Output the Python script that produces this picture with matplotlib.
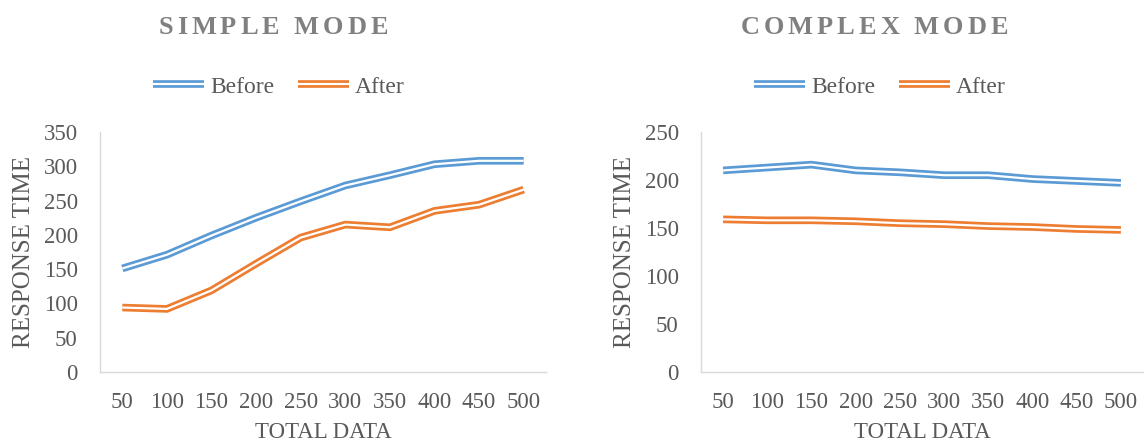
"""Response time before/after comparison for simple and complex modes."""

import matplotlib

matplotlib.use("Agg")
import matplotlib.pyplot as plt
from matplotlib.lines import Line2D

plt.rcParams["font.family"] = ["Liberation Serif", "DejaVu Serif"]

total_data = ["50", "100", "150", "200", "250", "300", "350", "400", "450", "500"]

simple_before = [151, 171, 199, 225, 249, 272, 287, 303, 308, 308]
simple_after = [94, 92, 119, 158, 196, 215, 211, 235, 244, 266]

complex_before = [210, 213, 216, 210, 208, 205, 205, 201, 199, 197]
complex_after = [159, 158, 158, 157, 155, 154, 152, 151, 149, 148]

BLUE = "#5B9BD5"
ORANGE = "#ED7D31"
TEXT = "#595959"
TITLE = "#808080"
SPINE = "#D9D9D9"

W, H = 1144, 443
OUTER_LW, INNER_LW = 5.5, 1.6


def double_line(ax, y, color):
    """Excel-style compound (double) line: thick stroke with a white core."""
    x = range(len(y))
    style = dict(solid_joinstyle="miter", solid_capstyle="butt")
    ax.plot(x, y, color=color, lw=OUTER_LW, zorder=3, **style)
    ax.plot(x, y, color="white", lw=INNER_LW, zorder=4, **style)


def spaced_title(fig, text, xc, yc, tracking, **kw):
    """Draw letter-spaced text centred on (xc, yc) in pixels from top-left."""
    renderer = fig.canvas.get_renderer()
    probe = fig.text(0, 0, text, **kw)
    prop = probe.get_fontproperties()
    probe.remove()

    def width(s):
        return renderer.get_text_width_height_descent(s, prop, ismath=False)[0]

    total = width(text) + tracking * (len(text) - 1)
    x0 = xc - total / 2
    for i, ch in enumerate(text):
        if ch == " ":
            continue
        left = width(text[: i + 1]) - width(ch) + i * tracking
        fig.text((x0 + left) / W, 1 - yc / H, ch, ha="left", va="center", **kw)


def style_axes(ax, ymax):
    ax.set_xlim(-0.5, len(total_data) - 0.5)
    ax.set_ylim(0, ymax)
    ax.set_yticks(range(0, ymax + 1, 50))
    ax.set_xticks(range(len(total_data)))
    ax.set_xticklabels(total_data)
    for side in ("top", "right"):
        ax.spines[side].set_visible(False)
    for side in ("left", "bottom"):
        ax.spines[side].set_color(SPINE)
        ax.spines[side].set_linewidth(1.0)
    ax.tick_params(axis="both", length=0, labelsize=16.5, colors=TEXT)
    ax.tick_params(axis="x", pad=14.5)
    ax.tick_params(axis="y", pad=16)
    ax.set_xlabel("TOTAL DATA", fontsize=16.5, color=TEXT)
    ax.set_ylabel("RESPONSE TIME", fontsize=18, color=TEXT)
    ax.xaxis.set_label_coords(0.5, -0.208)
    ax.yaxis.set_label_coords(-65 / (ax.get_position().width * W), 0.5)


fig = plt.figure(figsize=(W / 100, H / 100), dpi=100)

ax1 = fig.add_axes([100 / W, 71 / H, 446 / W, 240 / H])
ax2 = fig.add_axes([701 / W, 71 / H, 442 / W, 240 / H])

double_line(ax1, simple_before, BLUE)
double_line(ax1, simple_after, ORANGE)
double_line(ax2, complex_before, BLUE)
double_line(ax2, complex_after, ORANGE)

style_axes(ax1, 350)
style_axes(ax2, 250)

title_kw = dict(fontsize=19, fontweight="bold", color=TITLE)
spaced_title(fig, "SIMPLE MODE", 273, 28, 4.0, **title_kw)
spaced_title(fig, "COMPLEX MODE", 874, 27, 4.0, **title_kw)


def legend_handle(color):
    return (
        Line2D([], [], color=color, lw=OUTER_LW, solid_capstyle="butt"),
        Line2D([], [], color="white", lw=INNER_LW, solid_capstyle="butt"),
    )


for xc in (279, 880):
    fig.legend(
        [legend_handle(BLUE), legend_handle(ORANGE)],
        ["Before", "After"],
        loc="center",
        bbox_to_anchor=(xc / W, 1 - 87 / H),
        ncol=2,
        frameon=False,
        fontsize=17,
        labelcolor=TEXT,
        handlelength=2.16,
        handletextpad=0.25,
        columnspacing=1.0,
    )

fig.savefig("out.png", dpi=100)
